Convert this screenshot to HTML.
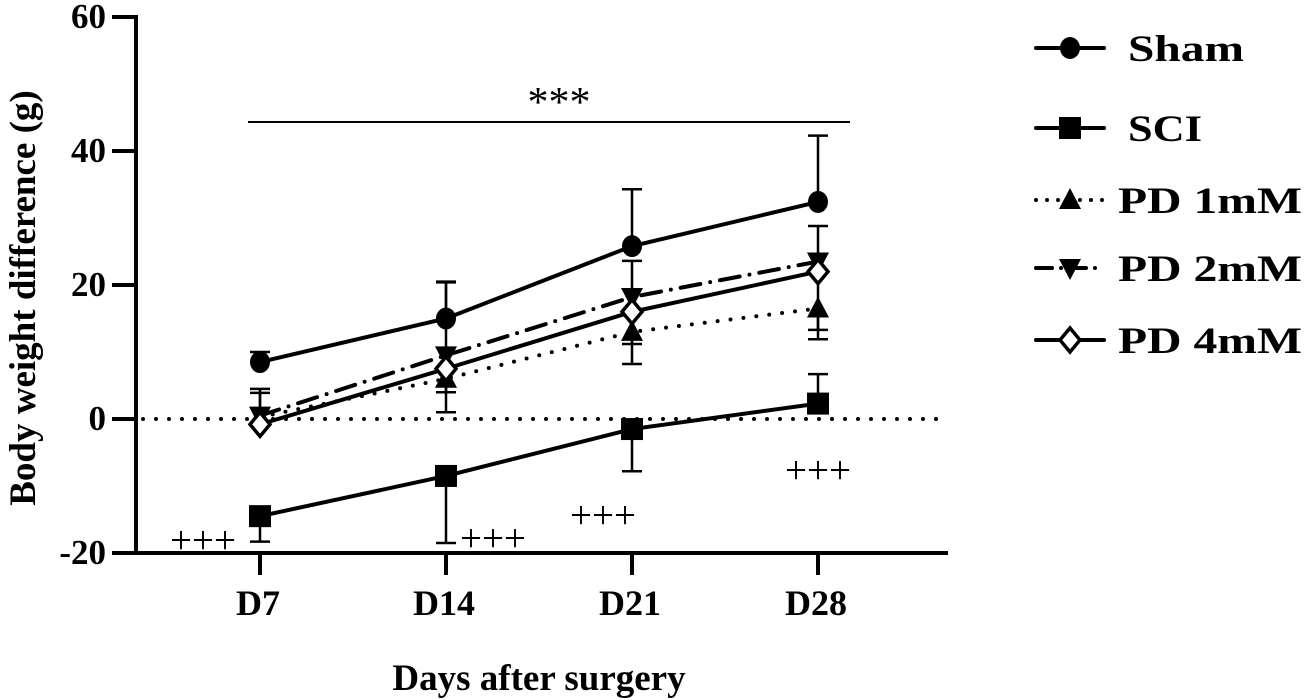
<!DOCTYPE html>
<html><head><meta charset="utf-8"><style>
html,body{margin:0;padding:0;background:#fff}
svg{display:block;font-family:"Liberation Serif",serif}
</style></head><body>
<svg id="c" width="1306" height="700" viewBox="0 0 1306 700" xmlns="http://www.w3.org/2000/svg"></svg>
<script>
const categories=["D7","D14","D21","D28"];
const yTicks=[-20,0,20,40,60];
const shamVals=[8.5,15,25.8,32.4];
const shamErr=[10,20.5,34.3,42.3];
const sciVals=[-14.5,-8.5,-1.5,2.3];
const sciErr=[-18.3,-18.5,-7.8,6.7];
const pd1Vals=[0.3,6,13,16.5];
const pd1Err=[3.9,1.0,8.2,11.9];
const pd2Vals=[0.5,9.5,18.2,23.5];
const pd2Err=[4.5,20.4,23.6,28.8];
const pd4Vals=[-0.8,7.5,16,22];
const pd4Err=[-0.8,4,11.2,13.3];
const seriesNames=["Sham","SCI","PD 1mM","PD 2mM","PD 4mM"];
const plusLabels=["+++","+++","+++","+++"];

const svg=document.getElementById('c');
const NS="http://www.w3.org/2000/svg";
const X0=136,X1=948,Y0=553,Y1=17;
const yS=v=>419-(v)*(Y0-Y1)/80;
const xS=i=>260+i*186;
function mk(t,a,p){const e=document.createElementNS(NS,t);for(const k in a)e.setAttribute(k,a[k]);(p||svg).appendChild(e);return e;}
let ax=mk('line',{x1:X0,y1:Y1-2,x2:X0,y2:Y0+2,stroke:'#000','stroke-width':4});

ax=mk('line',{x1:X0-2,y1:Y0,x2:X1,y2:Y0,stroke:'#000','stroke-width':4});

yTicks.forEach(v=>{
 const t=mk('line',{x1:X0-24,x2:X0,y1:yS(v),y2:yS(v),stroke:'#000','stroke-width':4});
 
 const l=mk('text',{x:X0-30,y:yS(v)+11,'text-anchor':'end','font-size':35,'font-weight':'bold'});
 l.textContent=v;
});
categories.forEach((c,i)=>{
 const t=mk('line',{x1:xS(i),x2:xS(i),y1:Y0,y2:Y0+22,stroke:'#000','stroke-width':4});
 
 const l=mk('text',{x:xS(i)-2,y:615,'text-anchor':'middle','font-size':36,'font-weight':'bold'});
 l.textContent=c;
});
let tt=mk('text',{x:539,y:690,'text-anchor':'middle','font-size':37,'font-weight':'bold'});
tt.textContent='Days after surgery';
tt=mk('text',{x:0,y:0,'text-anchor':'middle','font-size':37,'font-weight':'bold',transform:'translate(35,298) rotate(-90)'});
tt.textContent='Body weight difference (g)';
let z=mk('line',{x1:X0+7,x2:X1,y1:yS(0),y2:yS(0),stroke:'#000','stroke-width':4,'stroke-dasharray':'0 13','stroke-linecap':'round'});

z=mk('line',{x1:248,x2:850,y1:122,y2:122,stroke:'#000','stroke-width':2});

z=mk('text',{x:559,y:116,'text-anchor':'middle','font-size':42});z.textContent='***';

const plusPos=[[203,553],[493,551],[603,528],[818,483]];
plusLabels.forEach((p,i)=>{const e=mk('text',{x:plusPos[i][0],y:plusPos[i][1],'text-anchor':'middle','font-size':39});e.textContent=p;
 });

function marker(type,x,y,g){
 if(type==='circle')return mk('ellipse',{cx:x,cy:y,rx:10,ry:11,fill:'#000'},g);
 if(type==='square')return mk('rect',{x:x-11,y:y-11,width:22,height:22,fill:'#000'},g);
 if(type==='up')return mk('polygon',{points:`${x},${y-12} ${x+11},${y+9} ${x-11},${y+9}`,fill:'#000'},g);
 if(type==='down')return mk('polygon',{points:`${x},${y+12} ${x+11},${y-9} ${x-11},${y-9}`,fill:'#000'},g);
 return mk('polygon',{points:`${x},${y-12} ${x+10},${y} ${x},${y+12} ${x-10},${y}`,fill:'#fff',stroke:'#000','stroke-width':3.5},g);
}
const series=[
 {v:shamVals,e:shamErr,m:'circle',d:'',n:'sham'},
 {v:sciVals,e:sciErr,m:'square',d:'',n:'sci'},
 {v:pd1Vals,e:pd1Err,m:'up',d:'0 13',n:'pd-1mm'},
 {v:pd2Vals,e:pd2Err,m:'down',d:'20 10 0 10',n:'pd-2mm'},
 {v:pd4Vals,e:pd4Err,m:'diamond',d:'',n:'pd-4mm'}];
[series[2],series[3],series[4],series[1],series[0]].forEach(s=>{
 const g=mk('g',{});
 s.v.forEach((v,i)=>{
  const x=xS(i);
  const eb=mk('line',{x1:x,x2:x,y1:yS(v),y2:yS(s.e[i]),stroke:'#000','stroke-width':2.5},g);
  
  const cp=mk('line',{x1:x-10,x2:x+10,y1:yS(s.e[i]),y2:yS(s.e[i]),stroke:'#000','stroke-width':2.5},g);
  
 });
 const pts=s.v.map((v,i)=>xS(i)+','+yS(v)).join(' ');
 const pl=mk('polyline',{points:pts,fill:'none',stroke:'#000','stroke-width':4,'stroke-dasharray':s.d,'stroke-linecap':'round'},g);
 
 s.v.forEach((v,i)=>{const m=marker(s.m,xS(i),yS(v),g);});
});
const legY=[48,128,200,268,340];
const legX=[1128,1128,1118,1118,1118];
const legW=[116,74,184,184,184];
series.forEach((s,i)=>{
 const g=mk('g',{});
 mk('line',{x1:1036,x2:1104,y1:legY[i],y2:legY[i],stroke:'#000','stroke-width':4,'stroke-dasharray':s.d==='0 13'?'0 11':(s.d?'16 9 0 9':''),'stroke-linecap':'round'},g);
 marker(s.m,1070,legY[i],g);
 const t=mk('text',{x:legX[i],y:legY[i]+13,'font-size':37,'font-weight':'bold',textLength:legW[i],lengthAdjust:'spacingAndGlyphs'},g);t.textContent=seriesNames[i];
});
</script>
</body></html>
